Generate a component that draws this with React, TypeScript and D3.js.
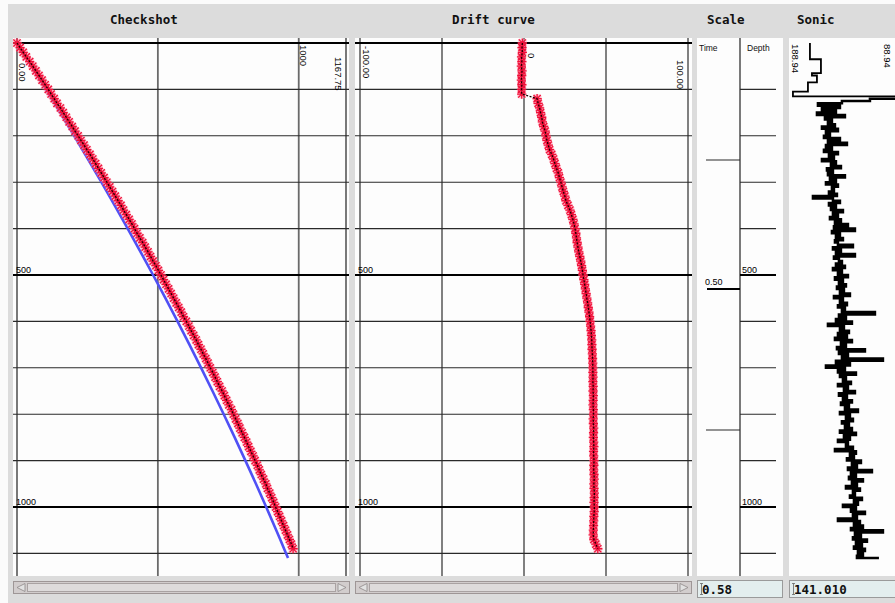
import React from 'react';
import * as d3 from 'd3';

const W = 895;
const H = 603;

// ---------- DATA ----------
// Checkshot: one-way time (ms) sampled every 10 m of depth (0..1090)
const CHECK_STEP = 10;
const checkTimes = [
  0, 11, 22, 33, 45, 56, 67, 78, 89, 100,
  111, 121, 132, 142, 154, 164, 175, 185, 196, 206,
  217, 227, 238, 248, 259, 269, 279, 289, 299, 309,
  319, 329, 339, 349, 359, 369, 378, 388, 398, 408,
  417, 426, 436, 446, 455, 465, 474, 483, 493, 502,
  511, 520, 529, 538, 547, 556, 565, 574, 583, 591,
  601, 610, 618, 627, 636, 644, 653, 661, 670, 678,
  686, 695, 703, 711, 719, 728, 736, 744, 752, 761,
  768, 776, 784, 791, 799, 807, 815, 822, 830, 838,
  845, 853, 860, 867, 875, 883, 889, 897, 904, 911,
  918, 925, 932, 939, 946, 953, 960, 967, 974, 980,
];

// Drift curve (ms) at the same depths
const driftValues = [
  -1.0, -1.2, -1.0, -1.5, -1.3, -1.6, -1.2, -1.4, -1.6, -1.3,
  -1.5, -1.4, 8.0, 8.6, 9.5, 10.1, 10.8, 11.2, 12.0, 12.9,
  13.4, 14.0, 14.8, 15.6, 16.9, 18.0, 18.9, 19.8, 20.9, 21.6,
  22.5, 23.2, 24.0, 24.9, 25.6, 26.8, 28.0, 28.9, 29.8, 30.5,
  31.1, 31.6, 32.0, 32.4, 32.9, 33.4, 34.0, 34.6, 35.1, 35.6,
  36.0, 36.5, 37.0, 37.4, 37.9, 38.3, 38.8, 39.2, 39.6, 40.0,
  40.3, 40.6, 40.9, 41.1, 41.3, 41.4, 41.5, 41.7, 41.8, 41.9,
  42.0, 42.0, 42.1, 42.0, 42.2, 42.1, 42.3, 42.2, 42.1, 42.3,
  42.4, 42.2, 42.3, 42.5, 42.4, 42.3, 42.5, 42.6, 42.4, 42.5,
  42.7, 42.6, 42.5, 42.7, 42.8, 42.6, 42.7, 42.9, 42.8, 42.7,
  42.9, 42.8, 42.6, 42.5, 42.4, 42.3, 42.2, 42.6, 43.8, 45.0,
];

// Sonic-integrated time-depth (blue)
const blueDepths = [0, 50, 100, 150, 200, 250, 300, 350, 400, 450, 500, 550, 600, 650, 700, 750, 800, 850, 900, 950, 1000, 1050, 1100, 1110];
const blueTimes = [0, 52, 103, 153.5, 203, 251.7, 299.6, 346.6, 392.9, 438.4, 483, 526.8, 569.8, 612, 653.4, 693.9, 733.7, 772.6, 810.7, 848, 884.5, 920.2, 955, 962];

// Sonic log (us/ft) every 5 m of depth
const SONIC_STEP = 5;
const sonicValues = [
  170, 170, 170, 170, 170, 170, 170, 159, 159, 159, 159, 159, 159, 168, 163, 163, 163, 172, 172, 172, 172, 187, 187, 70, 110,
  138, 162, 140, 158, 144, 163, 135, 155, 148, 152,
  145, 158, 142, 154, 150, 156, 140, 152, 133, 154,
  148, 156, 142, 151, 146, 158, 144, 149, 139, 153,
  147, 152, 135, 150, 144, 154, 142, 148, 146, 151,
  143, 167, 147, 140, 151, 144, 149, 137, 147, 142,
  150, 139, 145, 132, 146, 125, 148, 140, 144, 137,
  145, 142, 127, 147, 139, 144, 125, 146, 141, 138,
  144, 135, 147, 138, 142, 132, 145, 137, 141, 134,
  143, 136, 140, 130, 146, 137, 140, 133, 142, 135,
  138, 105, 141, 134, 144, 128, 152, 136, 140, 131,
  142, 133, 145, 128, 139, 134, 143, 115, 141, 132,
  138, 97, 144, 130, 154, 135, 142, 124, 140, 134,
  137, 129, 142, 132, 136, 125, 141, 133, 137, 128,
  139, 131, 135, 122, 140, 130, 134, 127, 138, 131,
  135, 128, 140, 124, 136, 130, 142, 132, 134, 127,
  145, 124, 130, 126, 133, 119, 128, 123, 132, 108,
  129, 124, 131, 117, 128, 123, 134, 120, 127, 125,
  130, 118, 126, 122, 137, 124, 129, 115, 127, 123,
  142, 120, 126, 117, 129, 97, 125, 119, 127, 113,
  124, 118, 126, 115, 122, 117, 123, 101,
];

const depthTicks = [0, 100, 200, 300, 400, 500, 600, 700, 800, 900, 1000, 1100];
const majorDepths = [0, 500, 1000];
const labelDepths = [500, 1000];
const checkGridTimes = [0, 500, 1000, 1167.75];
const driftGrid = [-100, -50, 0, 50, 100];
const timeTickValues = [0.25, 0.5, 0.75];
const timeTickDepths = [252, 530, 834];
const timeLabelValues = [0.5];

const titles = ['Checkshot', 'Drift curve', 'Scale', 'Sonic'];
const cursorTime = '0.58';
const cursorSonic = '141.010';

// ---------- LAYOUT ----------
const PANEL_TOP = 38;
const PANEL_BOTTOM = 576;
const panels = [
  { x0: 13, x1: 349 },
  { x0: 355, x1: 692 },
  { x0: 697, x1: 783 },
  { x0: 789, x1: 900 },
];
const titleX = [110, 452, 707, 797];

const yD = d3.scaleLinear().domain([0, 1000]).range([43, 507]);
const xT = d3.scaleLinear().domain([0, 1167.75]).range([17, 346]);
const xDr = d3.scaleLinear().domain([-100, 100]).range([360, 688]);
const xS = d3.scaleLinear().domain([188.94, 88.94]).range([791, 891]);

const SANS = 'Liberation Sans, Arial, sans-serif';
const MONO = 'DejaVu Sans Mono, monospace';

const starPath = 'M-3.6,-3.6L3.6,3.6M-3.6,3.6L3.6,-3.6M0,-4.6V4.6M-4.6,0H4.6';

function HGrid({ x0, x1 }: { x0: number; x1: number }) {
  return (
    <g>
      {depthTicks.map((d) => {
        const major = majorDepths.includes(d);
        return (
          <line key={d} x1={x0} x2={x1} y1={yD(d)} y2={yD(d)}
            stroke={major ? '#000' : '#2a2a2a'} strokeWidth={major ? 2 : 1.1} />
        );
      })}
    </g>
  );
}

function DepthLabels({ x }: { x: number }) {
  return (
    <g>
      {labelDepths.map((d) => (
        <text key={d} x={x} y={yD(d) - 2} fontSize={9} fontFamily={SANS} fill="#000">{d}</text>
      ))}
    </g>
  );
}

function RotLabel({ x, y, text }: { x: number; y: number; text: string }) {
  return (
    <text transform={`translate(${x},${y}) rotate(90)`} fontSize={9.5} fontFamily={SANS} fill="#000">{text}</text>
  );
}

function ScrollBar({ x, w }: { x: number; w: number }) {
  const y = 581;
  const h = 13;
  return (
    <g>
      <rect x={x + 0.5} y={y + 0.5} width={w - 1} height={h - 1} fill="#d2cdcd" stroke="#9e9696" />
      <rect x={x + 14.5} y={y + 2.5} width={w - 29} height={h - 5} fill="#dedbdb" stroke="#a9a2a2" />
      <polygon points={`${x + 4},${y + 6.5} ${x + 12},${y + 2.5} ${x + 12},${y + 10.5}`} fill="#e2e2e2" stroke="#8e8888" strokeWidth={0.8} />
      <polygon points={`${x + w - 4},${y + 6.5} ${x + w - 12},${y + 2.5} ${x + w - 12},${y + 10.5}`} fill="#e2e2e2" stroke="#8e8888" strokeWidth={0.8} />
    </g>
  );
}

function TextBox({ x, w, text }: { x: number; w: number; text: string }) {
  const y = 580;
  return (
    <g>
      <rect x={x + 0.5} y={y + 0.5} width={w - 1} height={17} fill="#e3eeee" stroke="#9a9a9a" />
      <path d={`M${x + 3},${y + 3.5}h3M${x + 4.5},${y + 3.5}v11M${x + 3},${y + 14.5}h3`} stroke="#666" strokeWidth={0.8} fill="none" />
      <text x={x + 5} y={y + 13.5} fontSize={12.5} fontFamily={MONO} fontWeight="bold" fill="#111">{text}</text>
    </g>
  );
}

export default function App() {
  const checkPts = checkTimes.map((t, i) => ({ t, d: i * CHECK_STEP }));
  const driftPts = driftValues.map((v, i) => ({ v, d: i * CHECK_STEP }));
  const bluePts = blueTimes.map((t, i) => ({ t, d: blueDepths[i] }));

  const checkLine = d3.line<{ t: number; d: number }>().x((p) => xT(p.t)).y((p) => yD(p.d));
  const blueLine = d3.line<{ t: number; d: number }>().x((p) => xT(p.t)).y((p) => yD(p.d)).curve(d3.curveCatmullRom);
  const driftLine = d3.line<{ v: number; d: number }>().x((p) => xDr(p.v)).y((p) => yD(p.d));
  const sonicTop = sonicValues.slice(0, 24);
  const sonicRest = sonicValues.slice(23);
  const sonicStep = d3.line<number>().x((v) => xS(v)).y((_, i) => yD(i * SONIC_STEP)).curve(d3.curveStepBefore);
  const sonicStepRest = d3.line<number>().x((v) => xS(v)).y((_, i) => yD((i + 23) * SONIC_STEP)).curve(d3.curveStepBefore);

  const [p1, p2, p3, p4] = panels;

  return (
    <svg width={W} height={H} style={{ position: 'absolute', left: 0, top: 0, display: 'block' }}>
      <defs>
        <clipPath id="c1"><rect x={p1.x0} y={PANEL_TOP} width={p1.x1 - p1.x0} height={PANEL_BOTTOM - PANEL_TOP} /></clipPath>
        <clipPath id="c2"><rect x={p2.x0} y={PANEL_TOP} width={p2.x1 - p2.x0} height={PANEL_BOTTOM - PANEL_TOP} /></clipPath>
        <clipPath id="c4"><rect x={p4.x0} y={PANEL_TOP} width={W - p4.x0} height={PANEL_BOTTOM - PANEL_TOP} /></clipPath>
      </defs>
      <rect x={0} y={0} width={W} height={H} fill="#fbfbfb" />
      <rect x={8} y={4} width={W - 8} height={H - 4} fill="#dcdcdc" />

      {/* titles */}
      {titles.map((t, i) => (
        <text key={t} x={titleX[i]} y={24} fontSize={12.5} fontFamily={MONO} fontWeight="bold" fill="#111">{t}</text>
      ))}

      {/* panel backgrounds */}
      {panels.map((p, i) => (
        <rect key={i} x={p.x0} y={PANEL_TOP} width={p.x1 - p.x0} height={PANEL_BOTTOM - PANEL_TOP} fill="#fdfdfd" />
      ))}

      {/* ---------- Checkshot ---------- */}
      <g clipPath="url(#c1)">
        {checkGridTimes.map((t) => (
          <line key={t} x1={xT(t)} x2={xT(t)} y1={PANEL_TOP} y2={PANEL_BOTTOM} stroke="#6a6a6a" strokeWidth={1.8} />
        ))}
        <HGrid x0={p1.x0} x1={p1.x1} />
        <DepthLabels x={16} />
        <RotLabel x={19} y={63} text="0.00" />
        <RotLabel x={300} y={45} text="1000" />
        <RotLabel x={335} y={57} text="1167.75" />
        <path d={blueLine(bluePts) || ''} fill="none" stroke="#5050f5" strokeWidth={2.6} />
        {checkPts.map((p, i) => (
          <path key={'h' + i} d={starPath} transform={`translate(${xT(p.t)},${yD(p.d)})`} stroke="#ff8fa6" strokeWidth={3} opacity={0.55} fill="none" />
        ))}
        {checkPts.map((p, i) => (
          <path key={'s' + i} d={starPath} transform={`translate(${xT(p.t)},${yD(p.d)})`} stroke="#f0103a" strokeWidth={1.3} fill="none" />
        ))}
        <path d={checkLine(checkPts) || ''} fill="none" stroke="#1a0000" strokeWidth={1.3} strokeDasharray="2 1.5" />
      </g>

      {/* ---------- Drift ---------- */}
      <g clipPath="url(#c2)">
        {driftGrid.map((v) => (
          <line key={v} x1={xDr(v)} x2={xDr(v)} y1={PANEL_TOP} y2={PANEL_BOTTOM} stroke="#4a4a4a" strokeWidth={1.4} />
        ))}
        <HGrid x0={p2.x0} x1={p2.x1} />
        <DepthLabels x={358} />
        <RotLabel x={363} y={46} text="-100.00" />
        <RotLabel x={528} y={53} text="0" />
        <RotLabel x={677} y={60} text="100.00" />
        {driftPts.map((p, i) => (
          <path key={'h' + i} d={starPath} transform={`translate(${xDr(p.v)},${yD(p.d)})`} stroke="#ff8fa6" strokeWidth={3} opacity={0.55} fill="none" />
        ))}
        {driftPts.map((p, i) => (
          <path key={'s' + i} d={starPath} transform={`translate(${xDr(p.v)},${yD(p.d)})`} stroke="#f0103a" strokeWidth={1.3} fill="none" />
        ))}
        <path d={driftLine(driftPts) || ''} fill="none" stroke="#1a0000" strokeWidth={1.3} strokeDasharray="2 1.5" />
      </g>

      {/* ---------- Scale ---------- */}
      <g>
        <line x1={740} x2={740} y1={PANEL_TOP} y2={PANEL_BOTTOM} stroke="#222" strokeWidth={1.2} />
        <text x={699} y={51} fontSize={8.5} fontFamily={SANS} fill="#111">Time</text>
        <text x={747} y={51} fontSize={8.5} fontFamily={SANS} fill="#111">Depth</text>
        {depthTicks.filter((d) => d > 0).map((d) => {
          const major = majorDepths.includes(d);
          return (
            <line key={d} x1={740} x2={776} y1={yD(d)} y2={yD(d)} stroke={major ? '#000' : '#2a2a2a'} strokeWidth={major ? 2 : 1.1} />
          );
        })}
        {labelDepths.map((d) => (
          <text key={d} x={742} y={yD(d) - 2} fontSize={9} fontFamily={SANS} fill="#000">{d}</text>
        ))}
        {timeTickValues.map((t, i) => {
          const major = timeLabelValues.includes(t);
          return (
            <line key={t} x1={major ? 707 : 706} x2={740} y1={yD(timeTickDepths[i])} y2={yD(timeTickDepths[i])}
              stroke={major ? '#000' : '#2a2a2a'} strokeWidth={major ? 2 : 1.1} />
          );
        })}
        {timeTickValues.map((t, i) => timeLabelValues.includes(t) ? (
          <text key={t} x={705} y={yD(timeTickDepths[i]) - 4} fontSize={9} fontFamily={SANS} fill="#000">{t.toFixed(2)}</text>
        ) : null)}
      </g>

      {/* ---------- Sonic ---------- */}
      <g clipPath="url(#c4)">
        <RotLabel x={792} y={44} text="188.94" />
        <RotLabel x={884} y={44} text="88.94" />
        <path d={sonicStep(sonicTop) || ''} fill="none" stroke="#000" strokeWidth={1.8} />
        <path d={sonicStepRest(sonicRest) || ''} fill="none" stroke="#000" strokeWidth={2.5} />
      </g>

      {/* ---------- bottom controls ---------- */}
      <ScrollBar x={13} w={337} />
      <ScrollBar x={355} w={337} />
      <TextBox x={697} w={86} text={cursorTime} />
      <TextBox x={789} w={110} text={cursorSonic} />
    </svg>
  );
}
